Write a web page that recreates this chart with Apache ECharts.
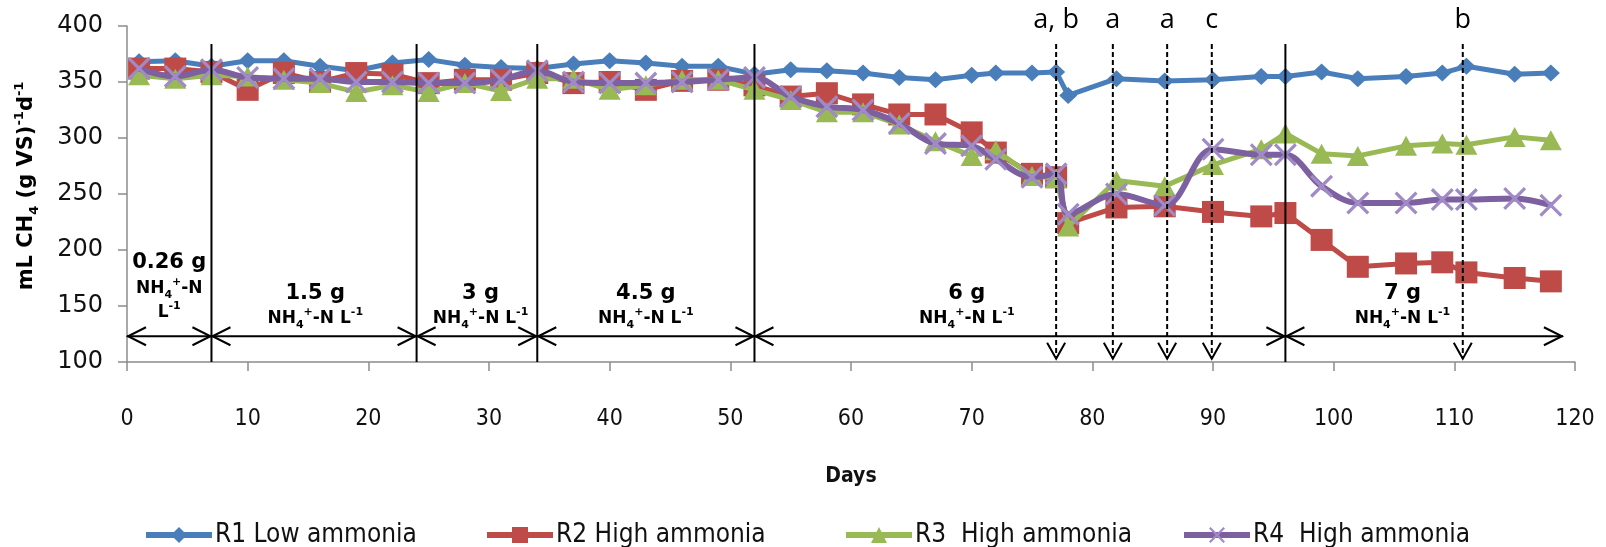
<!DOCTYPE html>
<html>
<head>
<meta charset="utf-8">
<script src="https://cdn.jsdelivr.net/npm/echarts@6/dist/echarts.min.js"></script>
<style>
html,body{margin:0;padding:0;background:#fff;}
#chart{width:1606px;height:547px;}
</style>
</head>
<body>
<div id="chart"></div>
<script>
// ---- data ----
const days = [1,4,7,10,13,16,19,22,25,28,31,34,37,40,43,46,49,52,55,58,61,64,67,70,72,75,77,78,82,86,90,94,96,99,102,106,109,111,115,118];
const r1Low  = [368,369,364,369,369,364,360,367,370,365,363,362,366,369,367,364,364,357,361,360,358,354,352,356,358,358,359,338,353,351,352,355,355,359,353,355,358,364,357,358];
const r2High = [362,362,359,343,358,350,358,357,349,352,352,358,349,350,343,351,352,347,337,340,330,321,321,305,287,268,265,224,238,239,234,230,233,209,185,188,189,180,175,172];
const r3High = [356,353,356,355,352,349,341,347,341,349,342,353,353,343,347,352,352,343,334,323,323,312,297,284,289,266,264,221,262,257,276,290,304,286,284,293,295,294,301,298];
const r4High = [362,355,361,354,353,353,350,350,349,349,352,360,350,349,349,350,352,354,337,328,325,313,295,293,281,265,268,232,250,240,290,285,285,257,242,242,245,245,246,240];
const seriesNames = ['R1 Low ammonia','R2 High ammonia','R3  High ammonia','R4  High ammonia'];
const xTicks = [0,10,20,30,40,50,60,70,80,90,100,110,120];
const yTicks = [100,150,200,250,300,350,400];
const phaseEdges = [0,7,24,34,52,96,119];
const phaseDose = ['0.26 g','1.5 g','3 g','4.5 g','6 g','7 g'];
const dividerDays = [7,24,34,52,96];
const eventDays = [77,81.7,86.2,89.9,110.7];
const eventLabels = ['a, b','a','a','c','b'];

// ---- layout constants (not data) ----
const phaseLabelDay = [3.5,15.6,29.3,43,69.6,105.7];
const ARROW_V = 123, TOP_V = 384, LETTER_V = 405;
const FONT = "'DejaVu Sans', Verdana, sans-serif";
const CFONT = "'DejaVu Sans Condensed', 'DejaVu Sans', sans-serif";
const colors = ['#4a7ebb','#be4b48','#98b954','#7d60a0'];

const chart = echarts.init(document.getElementById('chart'), null, {renderer:'canvas'});

const xPath = 'path://M0,1 L1,0 L10,9 L9,10 Z M9,0 L10,1 L1,10 L0,9 Z';

function pairs(vals){ return days.map((d,i)=>[d, vals[i]]); }

const unitRich = {
  b:{fontSize:17,fontWeight:'bold',fontFamily:FONT,fill:'#000',color:'#000',lineHeight:24,verticalAlign:'middle'},
  s:{fontSize:11,fontWeight:'bold',fontFamily:FONT,fill:'#000',color:'#000',verticalAlign:'bottom'},
  p:{fontSize:11,fontWeight:'bold',fontFamily:FONT,fill:'#000',color:'#000',verticalAlign:'top'}
};

function renderPhase(params, api){
  const i = params.dataIndex;
  const a = api.coord([api.value(0), ARROW_V]);
  const b = api.coord([api.value(1), ARROW_V]);
  const c = api.coord([phaseLabelDay[i], ARROW_V]);
  const st = {stroke:'#000', lineWidth:2, fill:null};
  const hl = 19, hw = 9;
  const first = i === 0;
  const unitText = first ? '{b|NH}{s|4}{p|+}{b|-N}\n{b|L}{p|-1}' : '{b|NH}{s|4}{p|+}{b|-N L}{p|-1}';
  return {type:'group', children:[
    {type:'line', shape:{x1:a[0],y1:a[1],x2:b[0],y2:b[1]}, style:st},
    {type:'polyline', shape:{points:[[a[0]+hl,a[1]-hw],[a[0]+1,a[1]],[a[0]+hl,a[1]+hw]]}, style:st},
    {type:'polyline', shape:{points:[[b[0]-hl,b[1]-hw],[b[0]-1,b[1]],[b[0]-hl,b[1]+hw]]}, style:st},
    {type:'text', x:c[0], y:c[1] + (first ? -74 : -43), style:{text:phaseDose[i], font:'bold 21px '+FONT, fill:'#000', align:'center', verticalAlign:'middle'}},
    {type:'text', x:c[0], y:c[1] + (first ? -36 : -18), style:{text:unitText, rich:unitRich, align:'center', verticalAlign:'middle', fill:'#000'}}
  ]};
}

function renderDivider(params, api){
  const t = api.coord([api.value(0), TOP_V]);
  const btm = api.coord([api.value(0), 100]);
  return {type:'line', shape:{x1:t[0],y1:t[1],x2:btm[0],y2:btm[1]}, style:{stroke:'#000', lineWidth:2}};
}

function renderEvent(params, api){
  const i = params.dataIndex;
  const t = api.coord([api.value(0), TOP_V]);
  const tip = api.coord([api.value(0), 103]);
  const lt = api.coord([api.value(0), LETTER_V]);
  const st = {stroke:'#000', lineWidth:2, fill:null};
  return {type:'group', children:[
    {type:'line', shape:{x1:t[0],y1:t[1],x2:tip[0],y2:tip[1]}, style:{stroke:'#000', lineWidth:2, lineDash:[5,3]}},
    {type:'polyline', shape:{points:[[tip[0]-9,tip[1]-16],[tip[0],tip[1]],[tip[0]+9,tip[1]-16]]}, style:st},
    {type:'text', x:lt[0], y:lt[1], style:{text:eventLabels[i], font:'27px "Open Sans", sans-serif', fill:'#000', align:'center', verticalAlign:'middle'}}
  ]};
}

const legendLefts = [138,479,838,1176];

const option = {
  animation:false,
  backgroundColor:'#fff',
  grid:{left:127,right:31,top:26,bottom:185,containLabel:false,outerBoundsMode:'none'},
  legend: seriesNames.map((n,i)=>({
    data:[n], left:legendLefts[i], top:517, itemWidth:66, itemHeight:20, itemGap:0,
    lineStyle:{width:6},
    textStyle:{fontSize:26, fontFamily:CFONT, color:'#111', padding:[0,0,0,-2]}
  })),
  xAxis:{
    type:'value', min:0, max:120, interval:10,
    name:'Days', nameLocation:'middle', nameGap:104,
    nameTextStyle:{fontSize:21, fontWeight:'bold', fontFamily:CFONT, color:'#111'},
    axisLine:{lineStyle:{color:'#8c8c8c', width:1.5}},
    axisTick:{show:true, length:9, lineStyle:{color:'#8c8c8c', width:1.5}},
    axisLabel:{margin:46, fontSize:23, fontFamily:CFONT, color:'#111', formatter:v=>xTicks.includes(v)?String(v):''},
    splitLine:{show:false}
  },
  yAxis:{
    type:'value', min:100, max:400, interval:50,
    name:'{b|mL CH}{s|4}{b| (g VS)}{p|-1}{b|d}{p|-1}',
    nameLocation:'middle', nameRotate:90, nameGap:86,
    nameTextStyle:{padding:[0,0,0,16], rich:{
      b:{fontSize:21,fontWeight:'bold',fontFamily:FONT,color:'#000',lineHeight:28,verticalAlign:'middle'},
      s:{fontSize:13,fontWeight:'bold',fontFamily:FONT,color:'#000',verticalAlign:'bottom'},
      p:{fontSize:13,fontWeight:'bold',fontFamily:FONT,color:'#000',verticalAlign:'top'}
    }},
    axisLine:{show:true, lineStyle:{color:'#8c8c8c', width:1.5}},
    axisTick:{show:true, length:9, lineStyle:{color:'#8c8c8c', width:1.5}},
    axisLabel:{margin:24, fontSize:24, fontFamily:FONT, color:'#111', formatter:v=>yTicks.includes(v)?String(v):''},
    splitLine:{show:false}
  },
  series:[
    {name:seriesNames[0], type:'line', data:pairs(r1Low), symbol:'diamond', symbolSize:[18,17],
     itemStyle:{color:colors[0]}, lineStyle:{color:colors[0], width:5}, z:2},
    {name:seriesNames[1], type:'line', data:pairs(r2High), symbol:'rect', symbolSize:22,
     itemStyle:{color:colors[1]}, lineStyle:{color:colors[1], width:5}, z:3},
    {name:seriesNames[2], type:'line', data:pairs(r3High), symbol:'triangle', symbolSize:[22,20],
     itemStyle:{color:colors[2]}, lineStyle:{color:colors[2], width:5}, z:4},
    {name:seriesNames[3], type:'line', data:pairs(r4High), symbol:xPath, symbolSize:23, smooth:0.35,
     itemStyle:{color:'#a08bc6'}, lineStyle:{color:colors[3], width:6}, z:5},
    {type:'custom', data:phaseEdges.slice(0,-1).map((s,i)=>[s, phaseEdges[i+1]]), renderItem:renderPhase, z:10, silent:true, clip:false},
    {type:'custom', data:dividerDays.map(d=>[d]), renderItem:renderDivider, z:10, silent:true, clip:false},
    {type:'custom', data:eventDays.map(d=>[d]), renderItem:renderEvent, z:10, silent:true, clip:false}
  ]
};
chart.setOption(option);
</script>
</body>
</html>
